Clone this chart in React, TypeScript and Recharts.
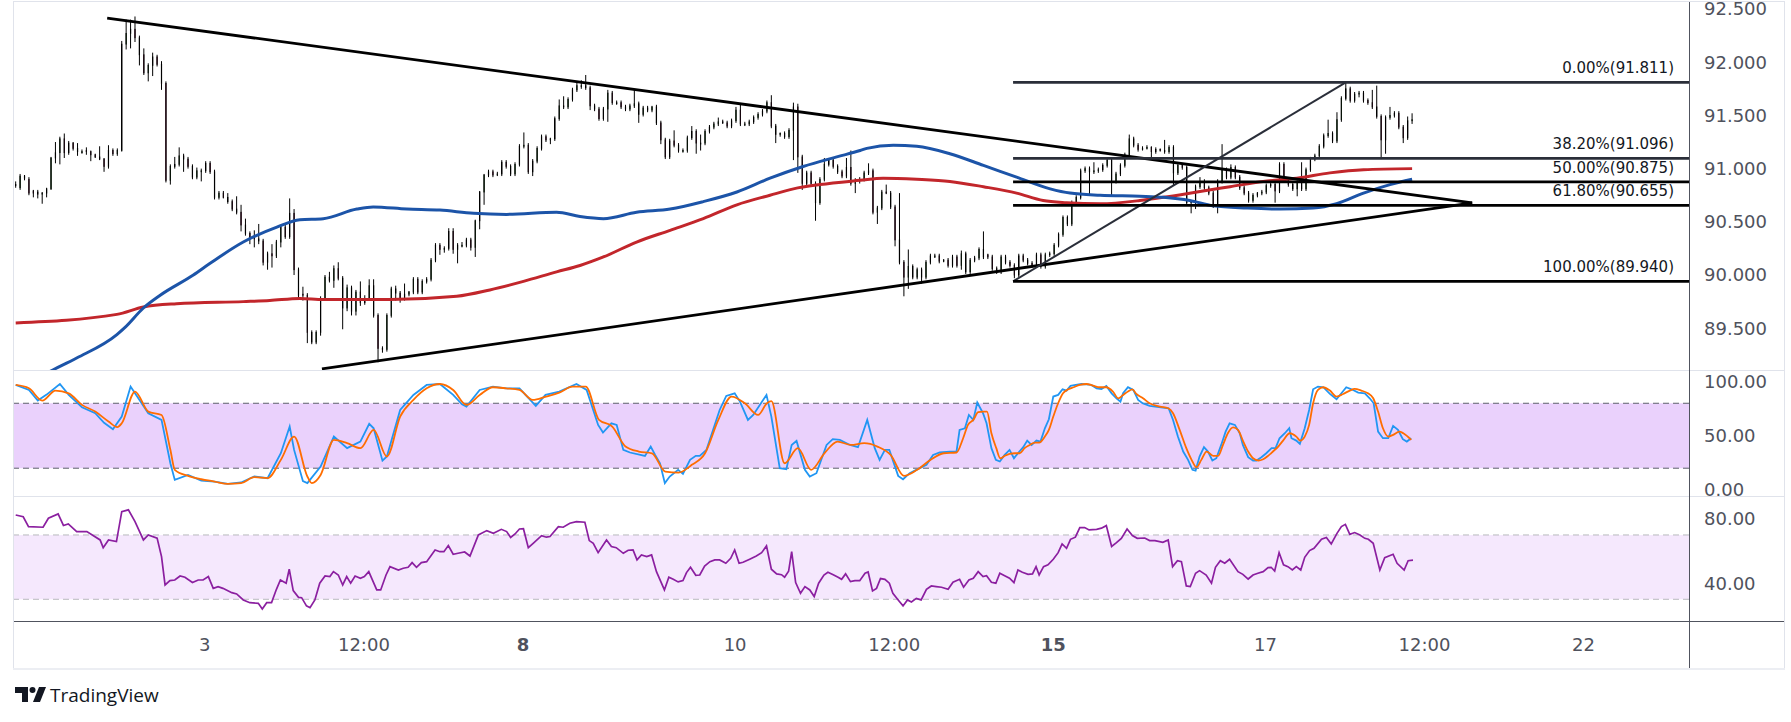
import React from 'react';
import { ComposedChart, Bar, Line, XAxis, YAxis, ReferenceLine, ReferenceArea } from 'recharts';

// hourly candles, [open, high, low, close]
const candles: number[][] = [
  [90.85,90.88,90.82,90.84],[90.82,90.95,90.80,90.93],[90.93,90.94,90.89,90.91],[90.90,90.92,90.75,90.77],
  [90.79,90.80,90.73,90.77],[90.78,90.80,90.72,90.76],[90.77,90.78,90.67,90.77],[90.77,90.82,90.73,90.81],
  [90.81,91.11,90.80,91.10],[91.10,91.25,91.05,91.15],[91.15,91.30,91.04,91.28],[91.28,91.33,91.10,91.15],
  [91.15,91.26,91.13,91.24],[91.24,91.25,91.17,91.19],[91.19,91.24,91.12,91.16],[91.16,91.18,91.14,91.16],
  [91.17,91.20,91.13,91.16],[91.16,91.17,91.07,91.13],[91.13,91.14,91.10,91.11],[91.11,91.21,91.08,91.09],
  [91.09,91.10,90.97,91.02],[91.02,91.22,91.00,91.17],[91.17,91.19,91.12,91.14],[91.14,91.19,91.12,91.17],
  [91.17,92.20,91.16,92.17],[92.17,92.40,92.12,92.27],[92.27,92.40,92.13,92.31],[92.31,92.43,92.19,92.23],
  [92.23,92.25,91.97,92.07],[92.07,92.13,91.88,91.90],[91.90,91.99,91.82,91.97],[91.97,92.09,91.87,92.05],
  [92.05,92.07,91.96,91.98],[91.98,92.01,91.74,91.80],[91.80,91.82,90.87,90.89],[90.89,91.04,90.85,91.02],
  [91.02,91.11,91.00,91.04],[91.04,91.20,91.02,91.12],[91.12,91.14,90.97,91.09],[91.09,91.11,91.00,91.02],
  [91.02,91.04,90.90,90.92],[90.92,91.01,90.90,90.98],[90.98,91.00,90.88,90.98],[90.98,91.07,90.96,91.05],
  [91.05,91.07,90.95,90.97],[90.97,90.99,90.71,90.73],[90.73,90.79,90.71,90.77],[90.77,90.79,90.72,90.73],
  [90.73,90.77,90.67,90.69],[90.69,90.71,90.60,90.62],[90.62,90.74,90.57,90.59],[90.59,90.66,90.41,90.47],
  [90.47,90.53,90.37,90.39],[90.39,90.41,90.29,90.34],[90.36,90.42,90.26,90.34],[90.34,90.48,90.29,90.32],
  [90.32,90.34,90.09,90.12],[90.12,90.22,90.05,90.20],[90.20,90.29,90.07,90.18],[90.18,90.33,90.16,90.31],
  [90.31,90.47,90.26,90.45],[90.45,90.47,90.34,90.36],[90.36,90.72,90.34,90.58],[90.58,90.62,90.00,90.05],
  [90.05,90.07,89.77,89.81],[89.82,89.89,89.76,89.81],[89.81,89.83,89.36,89.46],[89.46,89.48,89.35,89.37],
  [89.37,89.48,89.35,89.46],[89.46,89.80,89.43,89.78],[89.78,90.00,89.76,89.98],[89.98,90.03,89.93,89.95],
  [89.95,90.09,89.88,90.06],[90.06,90.12,89.95,89.97],[89.97,89.99,89.49,89.69],[89.69,89.91,89.66,89.88],
  [89.88,89.90,89.62,89.66],[89.66,89.86,89.62,89.84],[89.84,89.94,89.71,89.74],[89.74,89.81,89.72,89.78],
  [89.78,89.96,89.76,89.90],[89.90,89.96,89.60,89.62],[89.62,89.64,89.18,89.31],[89.31,89.33,89.27,89.30],
  [89.30,89.64,89.28,89.62],[89.62,89.89,89.60,89.87],[89.87,89.90,89.76,89.83],[89.83,89.85,89.74,89.77],
  [89.77,89.92,89.76,89.82],[89.82,89.85,89.80,89.84],[89.84,89.98,89.82,89.96],[89.96,89.98,89.82,89.84],
  [89.84,89.96,89.82,89.94],[89.94,89.98,89.92,89.96],[89.96,90.16,89.94,90.14],[90.14,90.30,90.12,90.28],
  [90.28,90.30,90.19,90.24],[90.24,90.27,90.21,90.25],[90.25,90.44,90.23,90.41],[90.41,90.44,90.20,90.24],
  [90.24,90.30,90.11,90.28],[90.28,90.31,90.26,90.28],[90.28,90.35,90.26,90.33],[90.33,90.35,90.23,90.26],
  [90.26,90.52,90.17,90.51],[90.51,90.79,90.43,90.78],[90.78,90.95,90.66,90.94],[90.94,90.99,90.92,90.97],
  [90.97,90.99,90.92,90.94],[90.95,90.97,90.93,90.95],[90.95,91.08,90.93,91.06],[91.06,91.08,91.00,91.02],
  [91.02,91.04,90.93,90.95],[90.95,91.06,90.93,91.04],[91.04,91.23,91.02,91.21],[91.21,91.34,91.19,91.22],
  [91.22,91.24,90.95,90.97],[90.97,91.09,90.93,91.07],[91.07,91.21,91.05,91.19],[91.19,91.32,91.17,91.30],
  [91.30,91.32,91.25,91.27],[91.27,91.29,91.23,91.28],[91.28,91.49,91.26,91.47],[91.47,91.65,91.45,91.59],
  [91.59,91.68,91.56,91.58],[91.58,91.67,91.56,91.65],[91.65,91.76,91.63,91.74],[91.74,91.82,91.72,91.78],
  [91.78,91.83,91.75,91.78],[91.78,91.88,91.74,91.76],[91.76,91.78,91.55,91.59],[91.59,91.61,91.54,91.56],
  [91.56,91.58,91.45,91.47],[91.47,91.58,91.45,91.56],[91.56,91.74,91.44,91.71],[91.71,91.73,91.60,91.62],
  [91.62,91.64,91.60,91.62],[91.62,91.64,91.56,91.58],[91.58,91.60,91.54,91.56],[91.56,91.61,91.54,91.59],
  [91.59,91.74,91.57,91.61],[91.61,91.63,91.43,91.51],[91.51,91.59,91.49,91.57],[91.57,91.59,91.53,91.55],
  [91.55,91.59,91.53,91.58],[91.58,91.60,91.41,91.43],[91.43,91.45,91.23,91.27],[91.27,91.29,91.09,91.11],
  [91.11,91.28,91.09,91.26],[91.26,91.36,91.20,91.22],[91.22,91.24,91.15,91.17],[91.17,91.19,91.15,91.17],
  [91.17,91.31,91.15,91.29],[91.29,91.40,91.27,91.35],[91.35,91.37,91.14,91.24],[91.24,91.32,91.17,91.24],
  [91.24,91.37,91.22,91.35],[91.35,91.41,91.33,91.39],[91.39,91.44,91.37,91.42],[91.42,91.48,91.40,91.44],
  [91.44,91.46,91.42,91.43],[91.43,91.45,91.38,91.40],[91.40,91.47,91.38,91.45],[91.45,91.58,91.43,91.55],
  [91.55,91.61,91.40,91.42],[91.42,91.44,91.40,91.42],[91.42,91.46,91.40,91.44],[91.44,91.50,91.42,91.48],
  [91.48,91.53,91.46,91.51],[91.51,91.56,91.49,91.54],[91.54,91.64,91.52,91.62],[91.62,91.69,91.38,91.40],
  [91.40,91.42,91.24,91.32],[91.32,91.34,91.30,91.33],[91.33,91.35,91.28,91.30],[91.30,91.38,91.28,91.36],
  [91.36,91.62,91.08,91.58],[91.58,91.61,90.96,91.11],[91.11,91.13,90.80,90.86],[90.86,90.98,90.84,90.96],
  [90.96,90.98,90.84,90.86],[90.86,90.88,90.51,90.68],[90.68,90.92,90.66,90.90],[90.90,91.10,90.88,91.04],
  [91.04,91.10,91.02,91.08],[91.08,91.10,91.00,91.02],[91.02,91.04,90.95,90.97],[90.97,90.99,90.91,90.93],
  [90.93,91.10,90.91,91.01],[91.01,91.17,90.84,90.86],[90.86,90.91,90.77,90.89],[90.89,90.92,90.86,90.90],
  [90.90,90.98,90.88,90.96],[90.96,91.05,90.94,90.98],[90.98,91.00,90.57,90.59],[90.59,90.65,90.48,90.63],
  [90.63,90.80,90.61,90.78],[90.78,90.85,90.76,90.77],[90.77,90.79,90.62,90.64],[90.64,90.66,90.27,90.33],
  [90.33,90.77,90.10,90.12],[90.12,90.14,89.80,89.98],[89.98,90.24,89.87,90.08],[90.08,90.10,89.96,89.98],
  [89.98,90.07,89.96,90.05],[90.05,90.07,89.92,89.98],[89.98,90.14,89.96,90.12],[90.12,90.20,90.10,90.18],
  [90.18,90.20,90.16,90.18],[90.18,90.20,90.11,90.13],[90.13,90.15,90.12,90.14],[90.14,90.16,90.07,90.09],
  [90.09,90.19,90.07,90.17],[90.17,90.19,90.07,90.09],[90.09,90.23,90.05,90.20],[90.20,90.22,90.01,90.03],
  [90.03,90.16,90.01,90.14],[90.14,90.18,90.12,90.16],[90.16,90.26,90.14,90.24],[90.24,90.41,90.15,90.17],
  [90.19,90.20,90.15,90.17],[90.17,90.19,90.04,90.06],[90.06,90.08,90.01,90.03],[90.03,90.19,90.01,90.17],
  [90.17,90.19,90.10,90.12],[90.12,90.14,90.07,90.09],[90.09,90.11,89.97,90.00],[90.00,90.20,89.98,90.18],
  [90.18,90.20,90.12,90.14],[90.14,90.16,90.09,90.11],[90.11,90.13,90.07,90.09],[90.09,90.21,90.07,90.19],
  [90.19,90.21,90.06,90.08],[90.08,90.21,90.06,90.19],[90.19,90.22,90.17,90.20],[90.20,90.30,90.18,90.28],
  [90.28,90.40,90.26,90.38],[90.38,90.56,90.36,90.54],[90.54,90.56,90.46,90.48],[90.48,90.70,90.46,90.68],
  [90.68,90.75,90.66,90.73],[90.73,91.00,90.71,90.98],[90.98,91.02,90.96,91.00],[91.00,91.02,90.75,90.97],
  [90.97,91.06,90.95,90.98],[90.98,91.01,90.96,90.99],[90.99,91.05,90.97,91.03],[91.03,91.10,91.01,91.08],
  [91.08,91.10,90.74,90.88],[90.88,90.97,90.86,90.95],[90.95,91.05,90.93,91.03],[91.03,91.15,91.01,91.13],
  [91.13,91.32,91.11,91.28],[91.28,91.30,91.20,91.22],[91.22,91.24,91.16,91.18],[91.18,91.21,91.17,91.19],
  [91.19,91.22,91.18,91.20],[91.20,91.21,91.09,91.16],[91.16,91.20,91.14,91.18],[91.18,91.19,91.16,91.17],
  [91.17,91.27,91.14,91.16],[91.16,91.22,91.14,91.20],[91.20,91.22,90.84,90.96],[90.96,91.05,90.94,91.03],
  [91.03,91.05,90.99,91.01],[91.01,91.03,90.66,90.68],[90.68,90.70,90.58,90.69],[90.69,90.85,90.62,90.83],
  [90.83,90.92,90.81,90.88],[90.88,90.90,90.80,90.82],[90.82,90.84,90.75,90.77],[90.77,90.79,90.63,90.65],
  [90.65,90.90,90.58,90.88],[90.88,91.23,90.86,90.99],[90.99,91.01,90.90,90.92],[90.92,91.04,90.90,91.01],
  [91.01,91.03,90.90,90.92],[90.92,90.94,90.80,90.82],[90.82,90.84,90.75,90.77],[90.77,90.79,90.68,90.70],
  [90.70,90.77,90.68,90.75],[90.75,90.78,90.73,90.77],[90.77,90.80,90.75,90.78],[90.78,90.86,90.76,90.84],
  [90.84,90.87,90.82,90.85],[90.85,90.87,90.68,90.79],[90.79,91.06,90.77,91.04],[91.04,91.06,90.87,90.89],
  [90.89,90.91,90.83,90.85],[90.85,90.87,90.79,90.81],[90.81,90.89,90.74,90.87],[90.87,91.06,90.79,90.81],
  [90.81,91.01,90.79,90.99],[90.99,91.11,90.97,91.09],[91.09,91.14,91.07,91.12],[91.12,91.23,91.10,91.21],
  [91.21,91.33,91.19,91.31],[91.31,91.46,91.29,91.33],[91.33,91.35,91.24,91.26],[91.26,91.53,91.24,91.46],
  [91.46,91.68,91.44,91.66],[91.66,91.82,91.64,91.75],[91.75,91.77,91.62,91.64],[91.64,91.72,91.62,91.70],
  [91.70,91.73,91.67,91.71],[91.71,91.73,91.62,91.64],[91.64,91.66,91.60,91.62],[91.62,91.74,91.56,91.58],
  [91.58,91.78,91.47,91.49],[91.49,91.51,91.09,91.27],[91.27,91.50,91.14,91.48],[91.48,91.58,91.46,91.50],
  [91.50,91.54,91.48,91.52],[91.52,91.54,91.37,91.39],[91.39,91.41,91.24,91.29],[91.29,91.49,91.27,91.45],
  [91.45,91.52,91.42,91.46],
];

// moving averages, [bar, value]
const blueMa: number[][] = [
  [0,88.93],[8.5,89.11],[13.8,89.22],[22.9,89.44],[24.8,89.51],[28.9,89.69],[32.7,89.81],[40.2,90.00],
  [44,90.11],[51.5,90.31],[59.1,90.45],[64.3,90.52],[69.6,90.53],[77.2,90.62],[80.9,90.64],[88.5,90.62],
  [96,90.61],[103.6,90.58],[111.1,90.57],[122.4,90.59],[127.7,90.55],[133,90.53],[140.5,90.59],[148.1,90.62],
  [155.6,90.69],[163.2,90.78],[170.7,90.91],[178.2,91.02],[185.8,91.11],[191.1,91.17],[192.6,91.19],[198.6,91.22],
  [203.9,91.21],[211.4,91.14],[219,91.03],[226.5,90.92],[234.1,90.81],[238.6,90.77],[245.4,90.75],[254.4,90.74],
  [259.7,90.73],[265.7,90.70],[271,90.65],[278.6,90.63],[286.1,90.62],[293.6,90.63],[298.9,90.67],[305,90.77],
  [311,90.85],[316,90.90],
];
const redMa: number[][] = [
  [0,89.55],[22.9,89.63],[28.9,89.70],[36.4,89.73],[51.5,89.75],[57.5,89.76],[64.3,89.78],[69.6,89.77],
  [84.7,89.77],[99.8,89.80],[107.3,89.86],[114.9,89.94],[122.4,90.03],[127.7,90.09],[133,90.17],[140.5,90.31],
  [148.1,90.42],[155.6,90.53],[163.2,90.66],[170.7,90.75],[176,90.81],[182,90.85],[191.1,90.89],[196.3,90.91],
  [203.9,90.90],[211.4,90.88],[219,90.83],[226.5,90.77],[232.5,90.70],[237.8,90.68],[245.4,90.67],[254.4,90.70],
  [259.7,90.73],[267.3,90.78],[274.8,90.83],[282.3,90.88],[289.9,90.91],[297.4,90.96],[305,90.99],[316,91.00],
];

// stochastic %K and %D, [bar, value]
const stochK: number[][] = [
  [0,96.9],[3,92.3],[5,82.5],[7,88],[10,97.8],[12,87.7],[15,76.3],[18,70.8],[20,62],[22,56],[24,67.7],[26,95.4],
  [27,89.2],[30,70.8],[33,64.6],[35,24.6],[36,9.2],[39,13.8],[42,8.6],[45,7.7],[48,5.5],[51,6.8],[54,12.3],
  [57,10.8],[60,33.8],[62,58.5],[63,36.9],[65,8],[66,6.2],[69,21.5],[72,49.2],[75,38.5],[78,44.6],[80,61],
  [81,56.9],[83,27],[84,30.8],[87,73.8],[90,87.7],[93,96.9],[96,97.8],[99,87.7],[101,79],[102,76.9],[105,92.3],
  [108,95.4],[111,93.8],[114,93.8],[117.7,77.5],[119.9,87.7],[123,90.8],[126.9,97.8],[129.2,92.3],[131.8,60],
  [132.9,53],[134.8,61.5],[136,60],[137.5,36.9],[139,34.5],[142.4,31.4],[143.7,40],[144.7,32.3],[145.8,24.6],
  [146.9,6.2],[148,12.3],[149.9,18.5],[151,14.8],[152.6,27.7],[153.9,31.4],[154.8,31.4],[156.3,36.9],
  [159.3,73.8],[160.8,86.8],[162.7,89.2],[163.9,81.5],[165.7,64.6],[166.9,69.2],[169.9,87.7],[171,67.7],
  [172.9,20],[174.4,19],[175.6,41.5],[176.7,45.2],[178.6,18.5],[179.7,12.3],[181.2,15.4],[183.5,41.5],
  [184.9,46.8],[186.5,46.2],[188.8,41.5],[190.6,39.4],[192.7,64.6],[194.4,38.5],[195.5,27.7],[196.7,36.9],
  [197.7,36.9],[199.7,12.9],[200.8,9.8],[202.3,15.4],[203.8,18.5],[206.1,23.1],[207.6,32.3],[209.1,34.5],
  [211.4,35.4],[212.9,35.4],[213.6,55.4],[214.8,56.9],[215.7,69.2],[216.7,64.6],[217.6,80.6],[218.9,70.8],
  [219.7,61.5],[220.8,38.5],[221.8,27.7],[222.7,26.2],[223.8,32.3],[224.9,36.9],[225.9,29.2],[226.8,33.8],
  [228,39.4],[228.9,45.5],[229.9,41.5],[231,45.5],[231.9,44.6],[232.9,56.9],[233.8,65.2],[234.8,86.2],
  [235.9,87.7],[236.9,92.9],[237.8,91.7],[238.7,96],[239.9,96.9],[241.2,97.8],[242.3,97.5],[243.4,96.9],
  [244.6,93.8],[245.7,93.2],[246.8,96],[248,89.2],[249.1,84.6],[250,81.5],[250.6,89.2],[251.7,94.8],
  [252.9,92.3],[254,83.1],[255,80],[256.6,77.5],[259.6,76],[260.9,75.4],[261.9,64.6],[263,49.2],[264.2,35.4],
  [265.3,27.7],[266.3,18.5],[267,17.8],[267.9,30.8],[268.9,39.4],[269.8,35.4],[270.8,27.1],[271.7,29.2],
  [272.8,41.5],[273.8,53.8],[274.7,61.5],[275.9,60],[277,52.3],[277.7,41.5],[278.9,30.2],[280,27.1],
  [280.8,27.1],[281.9,30.2],[283,33.8],[284.2,38.5],[285.1,38.5],[286,47.7],[287.2,52.3],[288.2,56.9],
  [288.7,47.7],[289.8,45.5],[290.6,42.5],[291.7,56.9],[292.7,73.8],[293.6,92.9],[294.7,95.4],[295.9,94.8],
  [297.4,88.6],[298.9,83.7],[300,89.2],[301.1,94.8],[302.3,92.9],[303.8,89.8],[305.3,89.2],[306.4,84.6],
  [307.3,80],[308.3,53.8],[309.4,47.7],[310.6,47.7],[311.7,59.1],[312.8,55.4],[313.9,46.8],[314.8,44.6],
  [315.8,47.7],
];
const stochD: number[][] = [
  [0,96.9],[3,93.8],[6,82.5],[9,91.7],[12,89.2],[15,78.5],[18,72.3],[21,63.1],[23,58],[24,61.5],[27,90.8],
  [30,72.3],[33,69.2],[35,37],[36,18.5],[39,12.9],[42,9.8],[45,7.7],[48,5.5],[51,6.2],[54,11.7],[57,10.8],
  [60,27.7],[63,49.2],[66,12.3],[67,6.2],[69,13.8],[72,46.2],[75,43.1],[78,38.5],[81,55.4],[84,30.8],
  [87,67.7],[90,83.1],[93,93.8],[96,97.8],[99,92.3],[102,78.5],[105,87.7],[108,94.8],[111,93.8],[114,92.3],
  [117,83.1],[120,86.2],[123,89.8],[126,95.4],[129,95.4],[132,64.6],[135,58.5],[138,40],[141,35.4],
  [144,33.8],[147,16.9],[150,16],[153,23.1],[156,33.8],[159,64.6],[162,86.2],[165,80],[168,69.2],[170,80],
  [171,82],[174,24.6],[177,38.5],[180,18.5],[183,33.8],[186,44.6],[189,41.5],[192,43.1],[195,40],[198,32.3],
  [201,12.9],[204,18.5],[207,27.7],[210,33.8],[212.9,34.5],[214.4,47.7],[215.5,60],[216.7,64.6],
  [217.8,71.7],[218.9,72.3],[219.8,72.3],[220.8,52.3],[221.9,38.5],[222.8,29.2],[223.8,31.4],[224.9,33.2],
  [226.1,33.8],[227.2,33.8],[228.3,38.5],[229.5,41.5],[230.6,43.7],[231.6,43.7],[232.9,49.2],[233.8,55.4],
  [234.8,67.7],[235.9,80],[237,89.2],[238.2,92.9],[239.4,94.8],[240.8,96.9],[242.3,97.8],[243.8,96.3],
  [245.3,94.8],[246.8,94.8],[248.3,90.8],[249.5,84.6],[250.6,87.7],[251.7,90.8],[252.7,92.9],[253.6,88.6],
  [255.1,84.6],[256.6,80],[258.9,76.9],[260.8,75.4],[261.9,70.8],[263.4,55.4],[264.9,38.5],[266.1,27.7],
  [267.2,20.9],[268.3,27.7],[269.5,35.4],[271,31.4],[272.1,31.4],[273.2,41.5],[274.3,52.3],[275.5,57.8],
  [276.6,55.4],[277.8,44.6],[278.9,35.4],[280,29.2],[281.2,27.1],[282.3,28.3],[283.4,31.4],[284.5,35.4],
  [285.7,40],[286.8,45.5],[288.3,52.3],[289.8,49.2],[290.7,45.5],[291.7,49.2],[292.7,60],[293.6,80],
  [294.7,92.3],[295.9,94.8],[297.4,91.7],[298.9,86.2],[300.4,88.6],[301.9,91.7],[303,93.2],[304.5,91.7],
  [306,89.2],[307.2,84.6],[308.3,72.3],[309.4,56.9],[310.6,49.2],[311.7,50.8],[313.1,53.8],[314,52.3],
  [315.8,46.2],
];

// RSI, [bar, value]
const rsi: number[][] = [
  [0,82.4],[1.7,81.3],[2.9,75.2],[6.2,74.8],[7.4,80.4],[9.6,83.1],[10.8,75.9],[11.9,76.9],[13.8,72.1],
  [16.1,72.1],[19.1,66.9],[19.8,62.1],[21,66.9],[22.8,65.9],[24,84.5],[25.5,85.6],[27,78.3],[28.9,66.9],
  [30,70],[32,68],[33,56.5],[33.8,38.9],[34.9,41.6],[36,42],[37.2,44.5],[38.3,43.7],[40,40.4],[41.3,42],
  [42.4,42],[43.6,44.1],[44.7,36.8],[45.8,37.9],[46.9,36.8],[48.9,34.1],[50,33.3],[51.5,29.6],[53,27.9],
  [54.9,27.5],[55.8,24],[56.8,27.9],[57.9,27.9],[59,36.2],[59.9,42],[61.2,40],[61.9,48.7],[62.8,35.4],
  [64,31.2],[64.7,31],[65.8,25.9],[66.6,24.8],[67.7,29.6],[68.8,40],[70,44.5],[71.1,44.1],[71.9,47.2],
  [73,45.1],[74,38.9],[74.9,44.1],[75.8,40],[76.8,44.5],[78,43.1],[78.9,44.1],[79.9,47.2],[81.7,35.8],
  [82.6,35.8],[83.8,45.1],[84.7,50.3],[86.6,48.2],[87.7,49.3],[88.8,49.9],[89.7,52.8],[90.7,49.9],
  [91.8,52.8],[93,53.4],[94.9,60.7],[96,59.6],[96.9,59.6],[97.9,63.4],[99,58],[100.1,58.6],[101.6,59.4],
  [102.8,56.9],[104.7,70],[106.6,72.7],[108.1,71],[109.9,73.5],[111.1,72.1],[112,68.4],[113,70.6],
  [114,73.7],[114.9,73.9],[116,62.1],[117.1,64.8],[119,69.6],[120.1,68.6],[120.9,69],[122.8,75.2],
  [123.9,74.8],[125.4,77.3],[126.9,78.3],[128.8,77.9],[129.8,66.5],[130.7,64.8],[131.8,59],[133.7,66.9],
  [134.8,62.8],[135.9,62.1],[137.5,58.6],[138.6,60.5],[139.7,60.7],[140.6,54.5],[141.6,57.6],[142.8,56.5],
  [143.9,57.6],[145,47.2],[146.8,35.8],[147.8,43.7],[148.8,42.4],[149.9,40.8],[151,41.6],[151.8,46.6],
  [152.7,49.9],[153.9,44.9],[154.8,45.1],[155.9,50.7],[157.1,53.4],[158.2,54.5],[159.3,54.5],[160.7,52.4],
  [161.8,55.5],[162.7,60.7],[163.7,52.4],[164.6,53],[166.1,54.9],[167.6,56.9],[168.8,59],[169.9,63.2],
  [171,48.7],[172.2,45.8],[173.3,45.3],[174,43.7],[174.9,47.4],[175.6,59.6],[176.5,40.4],[177.6,33.7],
  [178.6,37.9],[179.7,35.8],[180.7,31.7],[181.7,40],[182.9,45.1],[183.8,46.8],[185,45.3],[186.1,43.7],
  [186.9,42.4],[187.8,45.8],[188.9,41],[189.9,41.6],[191,41.6],[192.2,46.2],[192.9,47],[193.9,35.2],
  [194.8,36.8],[195.7,42.9],[196.7,42.4],[197.7,40],[198.5,33.7],[199.7,29.6],[200.8,25.9],[201.8,29.6],
  [202.7,28.3],[203.8,30.6],[204.9,29.6],[206.1,36.2],[207.2,38.3],[208.3,37.9],[209.5,37.5],[211,36.2],
  [212.1,40.6],[213.6,42.4],[214.5,37.5],[215.7,42],[216.7,43.1],[217.8,47.2],[218.9,44.1],[219.7,44.7],
  [220.8,40.6],[221.8,40],[222.7,46.2],[223.8,44.7],[224.9,43.1],[225.9,40.4],[226.8,48.2],[227.8,46.8],
  [229.1,45.5],[230.1,45.8],[230.9,50.3],[231.6,45.1],[232.6,50.3],[233.6,51.4],[234.8,54.9],[235.9,59],
  [236.8,64.4],[237.8,61.7],[238.7,67.3],[239.8,68.6],[240.8,74.6],[241.9,74.6],[242.9,73.1],[244.6,73.5],
  [245.7,74.2],[246.8,75.8],[248,62.8],[249.1,65.2],[250.2,67.9],[251.5,73.7],[252.7,69.6],[253.8,67.9],
  [255.5,68.1],[256.6,66.5],[257.8,66.5],[259.6,65.4],[260.8,66.9],[261.8,50.3],[262.9,54],[263.8,53.4],
  [264.9,38.3],[265.8,37.9],[267,46.2],[267.9,47.8],[269.4,45.1],[270.6,40],[271.5,49.9],[272.6,54],
  [273.6,52.4],[274.7,54.9],[276.6,47.2],[277.7,45.5],[278.9,42.6],[280,45.1],[281.1,46.2],[282.3,47.2],
  [283.4,49.7],[284.1,49.9],[284.9,47.6],[285.9,59],[286.9,51.4],[287.9,50.3],[288.9,48.2],[289.8,50.3],
  [290.8,48.2],[291.7,56.1],[292.8,60.3],[293.8,61.7],[295.5,67.3],[296.6,68.4],[297.7,64.4],[299,71],
  [300,75.2],[300.9,76.6],[301.9,70.4],[303,71.5],[304.2,70],[305.3,67.9],[306.1,67.3],[307.2,64.8],
  [308.7,48.2],[309.8,55.9],[311.7,58],[312.6,52.4],[314.2,48.2],[315.1,54],[316.2,54.3],
];

const priceTicks = [89.5, 90, 90.5, 91, 91.5, 92, 92.5];
const stochTicks = [0, 50, 100];
const rsiTicks = [40, 80];
const timeTicks = [42.8, 78.8, 114.8, 162.8, 198.8, 234.8, 282.8, 318.8, 354.8];
const timeLabels = ['3', '12:00', '8', '10', '12:00', '15', '17', '12:00', '22'];
const boldLabels = ['8', '15'];

// fibonacci retracement drawn from the 89.940 low to the 91.811 high
const fibPcts = ['0.00%', '38.20%', '50.00%', '61.80%', '100.00%'];
const fibValues = [91.811, 91.096, 90.875, 90.655, 89.94];
const fibFrom = [225.7, 89.94];
const fibTo = [301.0, 91.811];

// triangle trend lines, [bar, price]
const upperLine = [[20.7, 92.415], [329.6, 90.678]];
const lowerLine = [[69.3, 89.117], [329.6, 90.678]];

const X_MIN = -0.385;
const X_MAX = 378.66;
const W = 1770;
const AXIS_W = 95;
const FONT = '"DejaVu Sans", sans-serif';
const AXIS_TEXT = '#4f525d';
const GREEN = '#2db32d';
const RED = '#ec1a7c';
const fibColors = ['#2a2e39', '#2a2e39', '#000000', '#000000', '#000000'];

const rows = candles.map((q, i) => ({ i, o: q[0], h: q[1], l: q[2], c: q[3], range: [q[2], q[1]] }));
const toRows = (pts: number[][]) => pts.map(([i, v]) => ({ i, v }));

function Candle(props: any) {
  const { x, y, width, height, payload } = props;
  if (!payload || height == null || isNaN(y)) return null;
  const { o, h, l, c } = payload;
  const k = height / (h - l);
  const yOf = (v: number) => y + (h - v) * k;
  const top = yOf(Math.max(o, c));
  const bot = yOf(Math.min(o, c));
  const cx = x + width / 2;
  return (
    <g>
      <line x1={cx} x2={cx} y1={y} y2={y + height} stroke="#000" strokeWidth={1} />
      <rect x={x} y={top} width={width} height={Math.max(bot - top, 1)} fill={c >= o ? GREEN : RED} stroke="#000" strokeWidth={0.8} />
    </g>
  );
}

function TimeTick(props: any) {
  const { x, y, payload } = props;
  let idx = 0;
  timeTicks.forEach((t, j) => { if (Math.abs(t - payload.value) < Math.abs(timeTicks[idx] - payload.value)) idx = j; });
  const label = timeLabels[idx];
  return (
    <text x={x} y={y + 30} textAnchor="middle" fill={AXIS_TEXT} fontSize={18} fontFamily={FONT}
      fontWeight={boldLabels.includes(label) ? 700 : 400}>{label}</text>
  );
}

const yAxisProps = {
  orientation: 'right' as const,
  width: AXIS_W,
  axisLine: false,
  tickLine: false,
  tickSize: 0,
  tickMargin: 15,
  interval: 0 as const,
  allowDataOverflow: true,
  tick: { fill: AXIS_TEXT, fontSize: 18, fontFamily: FONT },
};

const line = (style: React.CSSProperties) => <div style={{ position: 'absolute', ...style }} />;

export default function App() {
  return (
    <div style={{ position: 'relative', width: 1791, height: 722, background: '#fff', overflow: 'hidden' }}>
      <style>{'body{margin:0;}'}</style>

      <div style={{ position: 'absolute', left: 14, top: 2 }}>
        <ComposedChart width={W} height={369} data={rows} margin={{ top: 0, right: 0, bottom: 0, left: 0 }}>
          <XAxis dataKey="i" type="number" domain={[X_MIN, X_MAX]} hide allowDataOverflow />
          <YAxis {...yAxisProps} domain={[89.098, 92.566]} ticks={priceTicks} tickFormatter={(v: number) => v.toFixed(3)} />
          <Line data={toRows(redMa)} dataKey="v" type="monotone" stroke="#c2262b" strokeWidth={3} dot={false} isAnimationActive={false} />
          <Line data={toRows(blueMa)} dataKey="v" type="monotone" stroke="#1c54a8" strokeWidth={3} dot={false} isAnimationActive={false} />
          <Bar dataKey="range" barSize={3} shape={Candle} isAnimationActive={false} />
          <ReferenceLine segment={[{ x: upperLine[0][0], y: upperLine[0][1] }, { x: upperLine[1][0], y: upperLine[1][1] }]} stroke="#000" strokeWidth={2.8} ifOverflow="visible" />
          <ReferenceLine segment={[{ x: lowerLine[0][0], y: lowerLine[0][1] }, { x: lowerLine[1][0], y: lowerLine[1][1] }]} stroke="#000" strokeWidth={2.8} ifOverflow="visible" />
          <ReferenceLine segment={[{ x: fibFrom[0], y: fibFrom[1] }, { x: fibTo[0], y: fibTo[1] }]} stroke="#2a2e39" strokeWidth={2} ifOverflow="visible" />
          {fibValues.map((v, j) => (
            <ReferenceLine key={j} segment={[{ x: fibFrom[0], y: v }, { x: X_MAX, y: v }]} stroke={fibColors[j]} strokeWidth={2.6} ifOverflow="visible"
              label={{ value: `${fibPcts[j]}(${v.toFixed(3)})`, position: 'insideBottomRight', offset: 9, dx: -6, fill: '#131722', fontSize: 15, fontFamily: FONT }} />
          ))}
        </ComposedChart>
      </div>

      <div style={{ position: 'absolute', left: 14, top: 371 }}>
        <ComposedChart width={W} height={126} data={toRows(stochK)} margin={{ top: 0, right: 0, bottom: 0, left: 0 }}>
          <XAxis dataKey="i" type="number" domain={[X_MIN, X_MAX]} hide allowDataOverflow />
          <YAxis {...yAxisProps} domain={[-6.6, 109.8]} ticks={stochTicks} tickFormatter={(v: number) => v.toFixed(2)} />
          <ReferenceArea y1={20} y2={80} fill="#ead1fc" fillOpacity={1} stroke="none" ifOverflow="visible" />
          <ReferenceLine y={80} stroke="#5d606b" strokeDasharray="6 4" />
          <ReferenceLine y={20} stroke="#5d606b" strokeDasharray="6 4" />
          <Line dataKey="v" type="linear" stroke="#2196f3" strokeWidth={1.8} dot={false} isAnimationActive={false} />
          <Line data={toRows(stochD)} dataKey="v" type="monotone" stroke="#ff6d00" strokeWidth={1.8} dot={false} isAnimationActive={false} />
        </ComposedChart>
      </div>

      <div style={{ position: 'absolute', left: 14, top: 497 }}>
        <ComposedChart width={W} height={171} data={toRows(rsi)} margin={{ top: 0, right: 0, bottom: 0, left: 0 }}>
          <XAxis dataKey="i" type="number" domain={[X_MIN, X_MAX]} ticks={timeTicks} interval={0} height={47}
            axisLine={false} tickLine={false} tickSize={0} tickMargin={0} tick={<TimeTick />} allowDataOverflow />
          <YAxis {...yAxisProps} domain={[16.5, 93.6]} ticks={rsiTicks} tickFormatter={(v: number) => v.toFixed(2)} />
          <ReferenceArea y1={30} y2={70} fill="#f5e8fd" fillOpacity={1} stroke="none" ifOverflow="visible" />
          <ReferenceLine y={70} stroke="#b8b9be" strokeDasharray="6 4" />
          <ReferenceLine y={30} stroke="#b8b9be" strokeDasharray="6 4" />
          <Line dataKey="v" type="linear" stroke="#8b1fa0" strokeWidth={1.7} dot={false} isAnimationActive={false} />
        </ComposedChart>
      </div>

      {line({ left: 13, top: 1, width: 1772, height: 1, background: '#e0e3eb' })}
      {line({ left: 13, top: 1, width: 1, height: 668, background: '#e0e3eb' })}
      {line({ left: 1784, top: 1, width: 1, height: 668, background: '#e0e3eb' })}
      {line({ left: 13, top: 668, width: 1772, height: 2, background: '#eceef3' })}
      {line({ left: 14, top: 370, width: 1770, height: 1, background: '#e0e3eb' })}
      {line({ left: 14, top: 496, width: 1770, height: 1, background: '#e0e3eb' })}
      {line({ left: 14, top: 621, width: 1770, height: 1, background: '#50535e' })}
      {line({ left: 1689, top: 2, width: 1, height: 666, background: '#50535e' })}

      <svg style={{ position: 'absolute', left: 15, top: 687 }} width={32} height={16} viewBox="0 0 32 16">
        <path d="M0 0H13V15H7V6H0Z" fill="#131722" />
        <circle cx="17.5" cy="3" r="3" fill="#131722" />
        <path d="M24 0H31L25 15H18Z" fill="#131722" />
      </svg>
      <div style={{ position: 'absolute', left: 50, top: 683, height: 24, lineHeight: '24px', fontFamily: '"Open Sans", sans-serif', fontSize: 19, color: '#131722' }}>
        TradingView
      </div>
    </div>
  );
}
